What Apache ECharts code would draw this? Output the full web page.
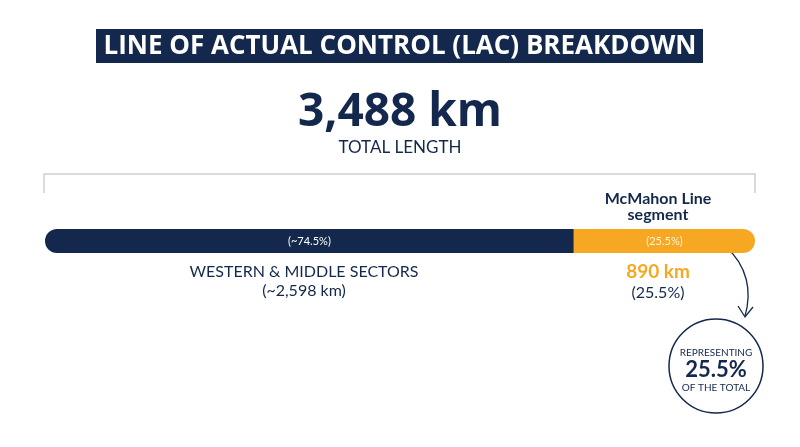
<!DOCTYPE html>
<html>
<head>
<meta charset="utf-8">
<script src="https://cdn.jsdelivr.net/npm/echarts@6/dist/echarts.min.js"></script>
<style>
html,body{margin:0;padding:0;background:#fff;}
#chart{width:800px;height:447px;}
</style>
</head>
<body>
<div id="chart"></div>
<script>
// ---- data ----
const categories = ['LAC'];
const seriesNames = ['WESTERN & MIDDLE SECTORS', 'McMahon Line segment'];
const westernKm = [2598];
const mcmahonKm = [890];
const totalKm = 3488;
const barLabels = ['(~74.5%)', '(25.5%)'];
const titleText = 'LINE OF ACTUAL CONTROL (LAC) BREAKDOWN';
const totalText = '3,488 km';
const totalSub = 'TOTAL LENGTH';
const westLines = ['WESTERN & MIDDLE SECTORS', '(~2,598 km)'];
const mcLines = ['McMahon Line', 'segment'];
const mcValue = '890 km';
const mcPct = '(25.5%)';
const circleLines = ['REPRESENTING', '25.5%', 'OF THE TOTAL'];

const NAVY = '#13284c';
const ORANGE = '#f7a823';
const FONT = 'Lato, "Open Sans", sans-serif';

const chart = echarts.init(document.getElementById('chart'));
chart.setOption({
  animation: false,
  backgroundColor: '#ffffff',
  grid: { left: 45, right: 45, top: 229, height: 24, containLabel: false },
  xAxis: { type: 'value', min: 0, max: totalKm, show: false },
  yAxis: { type: 'category', data: categories, show: false },
  series: [
    {
      name: seriesNames[0], type: 'bar', stack: 'lac', data: westernKm, barWidth: 24,
      itemStyle: { color: NAVY, borderRadius: [12, 0, 0, 12] },
      label: { show: true, position: 'inside', formatter: barLabels[0], color: '#ffffff', fontSize: 11, fontFamily: FONT }
    },
    {
      name: seriesNames[1], type: 'bar', stack: 'lac', data: mcmahonKm, barWidth: 24,
      itemStyle: { color: ORANGE, borderRadius: [0, 12, 12, 0] },
      label: { show: true, position: 'inside', formatter: barLabels[1], color: '#fdf3e0', fontSize: 11, fontFamily: FONT }
    }
  ],
  graphic: [
    { type: 'rect', shape: { x: 96, y: 29, width: 607, height: 34 }, style: { fill: NAVY } },
    { type: 'text', x: 400, y: 47, style: { text: titleText, fill: '#ffffff', font: 'bold 26px "Open Sans", sans-serif', textAlign: 'center', textVerticalAlign: 'middle' } },
    { type: 'text', x: 400, y: 113, style: { text: totalText, fill: NAVY, font: 'bold 46px "Open Sans", sans-serif', textAlign: 'center', textVerticalAlign: 'middle' } },
    { type: 'text', x: 400, y: 148, style: { text: totalSub, fill: NAVY, font: '17px ' + FONT, textAlign: 'center', textVerticalAlign: 'middle' } },
    { type: 'polyline', shape: { points: [[44, 193], [44, 174], [755, 174], [755, 193]] }, style: { stroke: '#cfcfcf', lineWidth: 1.5, fill: null } },
    { type: 'text', x: 658, y: 199, style: { text: mcLines[0], fill: NAVY, font: 'bold 16px ' + FONT, textAlign: 'center', textVerticalAlign: 'middle' } },
    { type: 'text', x: 658, y: 215, style: { text: mcLines[1], fill: NAVY, font: 'bold 16px ' + FONT, textAlign: 'center', textVerticalAlign: 'middle' } },
    { type: 'text', x: 304, y: 272, style: { text: westLines[0], fill: NAVY, font: '16px ' + FONT, textAlign: 'center', textVerticalAlign: 'middle' } },
    { type: 'text', x: 304, y: 291, style: { text: westLines[1], fill: NAVY, font: '16px ' + FONT, textAlign: 'center', textVerticalAlign: 'middle' } },
    { type: 'text', x: 658, y: 272, style: { text: mcValue, fill: ORANGE, font: 'bold 19px ' + FONT, textAlign: 'center', textVerticalAlign: 'middle' } },
    { type: 'text', x: 658, y: 293, style: { text: mcPct, fill: NAVY, font: '16px ' + FONT, textAlign: 'center', textVerticalAlign: 'middle' } },
    { type: 'bezierCurve', shape: { x1: 725, y1: 246, x2: 745, y2: 316, cpx1: 748, cpy1: 266, cpx2: 752, cpy2: 292 }, style: { stroke: NAVY, lineWidth: 1.3, fill: null } },
    { type: 'polyline', shape: { points: [[738, 306], [745, 317], [753, 307]] }, style: { stroke: NAVY, lineWidth: 1.3, fill: null } },
    { type: 'circle', shape: { cx: 716, cy: 366, r: 47 }, style: { stroke: NAVY, lineWidth: 1.5, fill: '#ffffff' } },
    { type: 'text', x: 716, y: 353, style: { text: circleLines[0], fill: NAVY, font: '10px ' + FONT, textAlign: 'center', textVerticalAlign: 'middle' } },
    { type: 'text', x: 716, y: 370, style: { text: circleLines[1], fill: NAVY, font: 'bold 22px ' + FONT, textAlign: 'center', textVerticalAlign: 'middle' } },
    { type: 'text', x: 716, y: 388, style: { text: circleLines[2], fill: NAVY, font: '10px ' + FONT, textAlign: 'center', textVerticalAlign: 'middle' } }
  ]
});
</script>
</body>
</html>
